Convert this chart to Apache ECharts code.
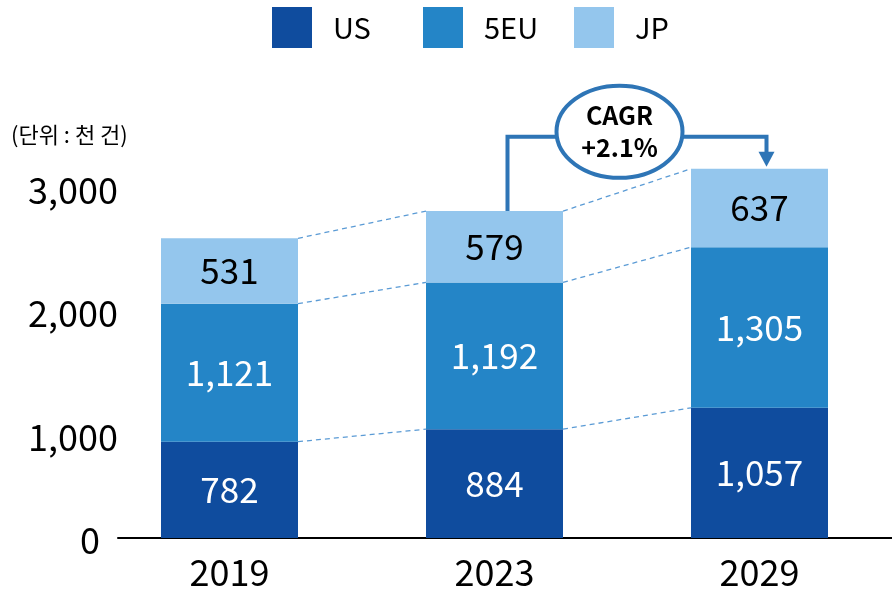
<!DOCTYPE html>
<html><head><meta charset="utf-8">
<script src="https://cdn.jsdelivr.net/npm/echarts@6/dist/echarts.min.js"></script>
<style>html,body{margin:0;padding:0;background:#fff}#c{width:892px;height:592px}</style>
</head><body><div id="c"></div>
<script>
const categories = ['2019', '2023', '2029'];
const seriesNames = ['US', '5EU', 'JP'];
const usValues = [782, 884, 1057];
const euValues = [1121, 1192, 1305];
const jpValues = [531, 579, 637];
const yTicks = [0, 1000, 2000, 3000];
const unitText = '(단위 : 천 건)';
const cagrText = 'CAGR\n+2.1%';

const FONT = '"Noto Sans CJK KR", "Noto Sans", sans-serif';
const colors = { us: '#0F4C9E', eu: '#2485C7', jp: '#94C6ED' };
const BAR_W = 137;
const fmt = v => v.toLocaleString('en-US');

const cum1 = usValues.map((v, i) => v);
const cum2 = usValues.map((v, i) => v + euValues[i]);
const cum3 = usValues.map((v, i) => v + euValues[i] + jpValues[i]);
const levels = [cum1, cum2, cum3];

const chart = echarts.init(document.getElementById('c'));
const labelBase = { show: true, position: 'inside', fontSize: 35, fontFamily: FONT, formatter: p => fmt(p.value) };
const legendLefts = [272, 423, 574];
const legends = seriesNames.map((n, i) => ({
  left: legendLefts[i], top: 7, padding: 0, itemWidth: 40, itemHeight: 41, icon: 'rect',
  textStyle: { fontSize: 29, color: '#000', fontFamily: FONT, padding: [2, 0, 0, 16] },
  data: [n]
}));

chart.setOption({
  animation: false,
  title: { text: unitText, left: 6, top: 119, textStyle: { fontSize: 22, fontWeight: 'normal', color: '#000', fontFamily: FONT } },
  legend: legends,
  grid: [
    { left: 97, right: 0, top: 144, bottom: 54, containLabel: false },
    { left: 118, right: 0, top: 144, bottom: 54, containLabel: false }
  ],
  xAxis: [{
    type: 'category', data: categories, gridIndex: 0,
    axisLine: { show: false },
    axisTick: { show: false },
    axisLabel: { fontSize: 36, color: '#000', fontFamily: FONT, margin: 16 }
  }, {
    type: 'value', gridIndex: 1, min: 0, max: 1,
    axisLine: { show: true, onZero: false, lineStyle: { color: '#000', width: 2 } },
    axisTick: { show: false }, axisLabel: { show: false }, splitLine: { show: false }
  }],
  yAxis: [{
    type: 'value', min: 0, max: 3200, interval: 1000, gridIndex: 0,
    axisLine: { show: false }, axisTick: { show: false }, splitLine: { show: false },
    axisLabel: {
      fontSize: 36, color: '#000', fontFamily: FONT, margin: -21,
      formatter: v => yTicks.indexOf(v) < 0 ? '' : (v === 0 ? '{z|0}' : '{a|' + fmt(v) + '}'),
      rich: {
        a: { fontSize: 36, fontFamily: FONT, color: '#000', padding: [44, 0, 0, 0] },
        z: { fontSize: 36, fontFamily: FONT, color: '#000', padding: [4, 18, 0, 0] }
      }
    }
  }, {
    type: 'value', gridIndex: 1, min: 0, max: 1, show: false
  }],
  series: [
    { name: 'US', type: 'bar', stack: 't', barWidth: BAR_W, data: usValues, itemStyle: { color: colors.us },
      label: Object.assign({}, labelBase, { color: '#fff' }) },
    { name: '5EU', type: 'bar', stack: 't', barWidth: BAR_W, data: euValues, itemStyle: { color: colors.eu },
      label: Object.assign({}, labelBase, { color: '#fff' }) },
    { name: 'JP', type: 'bar', stack: 't', barWidth: BAR_W, data: jpValues, itemStyle: { color: colors.jp },
      label: Object.assign({}, labelBase, { color: '#000' }) },
    {
      type: 'custom', silent: true, z: 5,
      data: [[0], [1]],
      encode: { x: 0 },
      renderItem: (params, api) => {
        const i = api.value(0);
        const children = levels.map(arr => {
          const a = api.coord([i, arr[i]]);
          const b = api.coord([i + 1, arr[i + 1]]);
          return {
            type: 'line',
            shape: { x1: a[0] + BAR_W / 2, y1: a[1], x2: b[0] - BAR_W / 2, y2: b[1] },
            style: { stroke: '#5B9BD5', lineWidth: 1.3, lineDash: [5, 4] }
          };
        });
        return { type: 'group', children };
      }
    },
    {
      type: 'custom', silent: true, z: 6,
      data: [[1]],
      encode: { x: 0 },
      renderItem: (params, api) => {
        const a = api.coord([1, cum3[1]]);
        const b = api.coord([2, cum3[2]]);
        const lx = a[0] + 13, rx = b[0] + 7;
        const yl = b[1] - 32;
        const cx = a[0] + 125, cy = yl - 5, erx = 63, ery = 46;
        const st = { stroke: '#2E75B6', lineWidth: 4, fill: null };
        return {
          type: 'group',
          children: [
            { type: 'polyline', shape: { points: [[lx, a[1]], [lx, yl], [cx - erx, yl]] }, style: st },
            { type: 'polyline', shape: { points: [[cx + erx, yl], [rx, yl], [rx, b[1] - 16]] }, style: st },
            { type: 'polygon', shape: { points: [[rx - 8, b[1] - 17], [rx + 8, b[1] - 17], [rx, b[1] - 2]] }, style: { fill: '#2E75B6' } },
            { type: 'ellipse', shape: { cx, cy, rx: erx, ry: ery }, style: { stroke: '#2E75B6', lineWidth: 4, fill: '#fff' } },
            { type: 'text', x: cx, y: cy, style: { text: cagrText, fontSize: 25, fontWeight: 'bold', fontFamily: FONT, fill: '#000', align: 'center', verticalAlign: 'middle', lineHeight: 32 } }
          ]
        };
      }
    }
  ]
});
</script></body></html>
